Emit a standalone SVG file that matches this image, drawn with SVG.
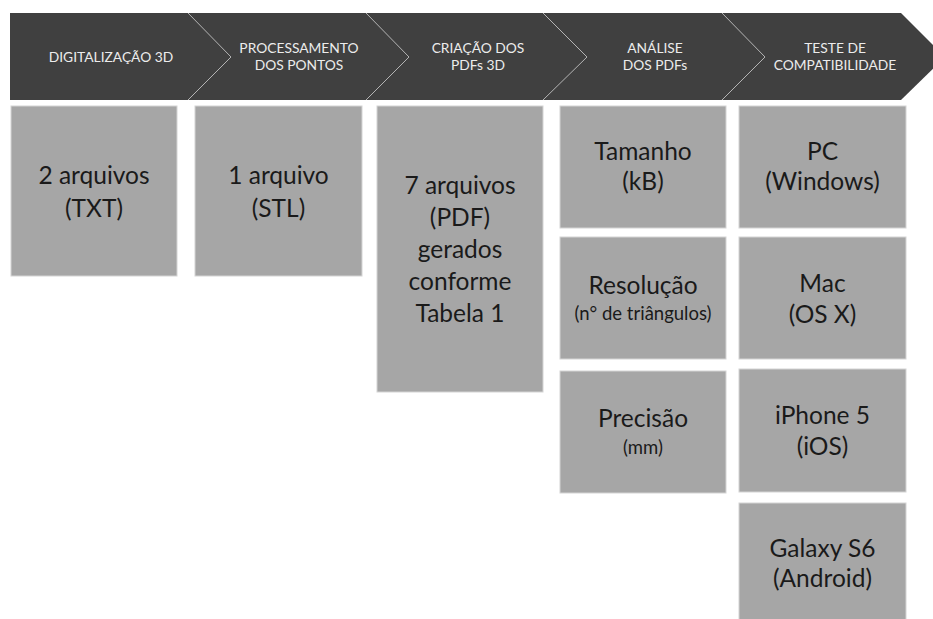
<svg xmlns="http://www.w3.org/2000/svg" width="933" height="619" viewBox="0 0 933 619">
<style>
.band{fill:#404040}
.div{fill:none;stroke:#b4b4b4;stroke-width:1}
.hd{font-family:Lato,"Open Sans","Liberation Sans",sans-serif;font-size:13.8px;fill:#ececec;text-anchor:middle}
.box{fill:#a6a6a6;stroke:#d4d4d4;stroke-width:1}
.t{font-family:Lato,"Open Sans","Liberation Sans",sans-serif;font-size:24.5px;fill:#1a1a1a;text-anchor:middle}
.s{font-family:Lato,"Open Sans","Liberation Sans",sans-serif;font-size:18.5px;fill:#1a1a1a;text-anchor:middle}
</style>
<rect width="933" height="619" fill="#ffffff"/>
<g id="header">
<polygon class="band" points="10,13 901,13 945,57 901,100 10,100"/>
</g>
<g id="connectors">
<polyline class="div" points="188,13 231,57 188,100"/>
<polyline class="div" points="366,13 409,57 366,100"/>
<polyline class="div" points="543,13 587,57 543,100"/>
<polyline class="div" points="722,13 765,57 722,100"/>
</g>
<g id="step1"><text class="hd" x="111" y="62">DIGITALIZAÇÃO 3D</text></g>
<g id="step2"><text class="hd" x="299" y="53">PROCESSAMENTO</text><text class="hd" x="299" y="70">DOS PONTOS</text></g>
<g id="step3"><text class="hd" x="478" y="53">CRIAÇÃO DOS</text><text class="hd" x="478" y="70">PDFs 3D</text></g>
<g id="step4"><text class="hd" x="655" y="53">ANÁLISE</text><text class="hd" x="655" y="70">DOS PDFs</text></g>
<g id="step5"><text class="hd" x="835" y="53">TESTE DE</text><text class="hd" x="835" y="70">COMPATIBILIDADE</text></g>

<g id="box-txt"><rect class="box" x="11" y="106" width="166" height="170"/><text class="t" x="94" y="184">2 arquivos</text><text class="t" x="94" y="217">(TXT)</text></g>
<g id="box-stl"><rect class="box" x="195" y="106" width="167" height="170"/><text class="t" x="278.5" y="184">1 arquivo</text><text class="t" x="278.5" y="217">(STL)</text></g>
<g id="box-pdf"><rect class="box" x="377" y="106" width="166" height="286"/>
<text class="t" x="460" y="194">7 arquivos</text><text class="t" x="460" y="226">(PDF)</text><text class="t" x="460" y="258">gerados</text><text class="t" x="460" y="290">conforme</text><text class="t" x="460" y="322">Tabela 1</text></g>
<g id="box-tamanho"><rect class="box" x="560" y="106" width="166" height="122"/><text class="t" x="643" y="160">Tamanho</text><text class="t" x="643" y="190">(kB)</text></g>
<g id="box-resolucao"><rect class="box" x="560" y="237" width="166" height="122"/><text class="t" x="643" y="294">Resolução</text><text class="s" x="643" y="320">(n° de triângulos)</text></g>
<g id="box-precisao"><rect class="box" x="560" y="371" width="166" height="122"/><text class="t" x="643" y="427">Precisão</text><text class="s" x="643" y="454">(mm)</text></g>
<g id="box-pc"><rect class="box" x="739" y="106" width="167" height="122"/><text class="t" x="822.5" y="160">PC</text><text class="t" x="822.5" y="190">(Windows)</text></g>
<g id="box-mac"><rect class="box" x="739" y="237" width="167" height="122"/><text class="t" x="822.5" y="292">Mac</text><text class="t" x="822.5" y="323">(OS X)</text></g>
<g id="box-iphone"><rect class="box" x="739" y="369" width="167" height="123"/><text class="t" x="822.5" y="424">iPhone 5</text><text class="t" x="822.5" y="455">(iOS)</text></g>
<g id="box-galaxy"><rect class="box" x="739" y="503" width="167" height="117"/><text class="t" x="822.5" y="557">Galaxy S6</text><text class="t" x="822.5" y="587">(Android)</text></g>
</svg>
